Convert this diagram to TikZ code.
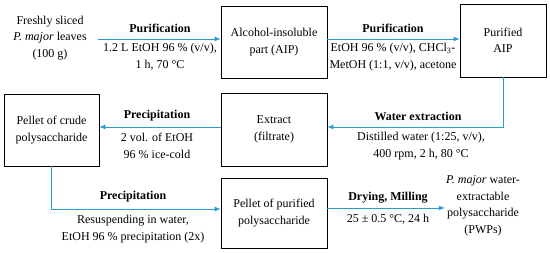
\documentclass[tikz,border=0pt]{standalone}
\usepackage{fontspec}
\setmainfont{Liberation Serif}
\usetikzlibrary{arrows.meta}
\definecolor{arr}{RGB}{40,155,215}
\begin{document}
\begin{tikzpicture}[x=1pt,y=-1pt,
  every node/.style={font=\fontsize{12}{16.5}\selectfont, align=center},
  box/.style={draw, line width=0.8pt, inner sep=0pt},
  flow/.style={draw=arr, line width=0.8pt, -{Latex[length=6pt,width=5pt]}},
  lab/.style={font=\fontsize{12}{16.5}\selectfont\bfseries, inner sep=0pt},
  sub/.style={inner sep=0pt}]
\useasboundingbox (0,0) rectangle (550,253);
\node (start) [minimum width=96pt, inner sep=0pt] at (50,38) {Freshly sliced\\\textit{P. major} leaves\\(100 g)};
\node (aip) [box, minimum width=106pt, minimum height=72pt] at (274,42) {Alcohol-insoluble\\part (AIP)};
\node (paip) [box, minimum width=86pt, minimum height=73pt] at (503,40.5) {Purified\\AIP};
\node (crude) [box, minimum width=95pt, minimum height=72pt] at (51.5,130) {Pellet of crude\\polysaccharide};
\node (extract) [box, minimum width=106pt, minimum height=73pt] at (274,129.5) {Extract\\(filtrate)};
\node (purif) [box, minimum width=106pt, minimum height=70pt] at (274,213) {Pellet of purified\\polysaccharide};
\node (final) [inner sep=1pt] at (483,206) {\textit{P. major} water-\\extractable\\polysaccharide\\(PWPs)};

\draw[flow] (start.east |- 0,39) -- (aip.west |- 0,39);
\node (l1) [lab] at (160,28) {Purification};
\node (s1) [sub] at (160,57) {1.2 L EtOH 96 \% (v/v),\\1 h, 70 °C};

\draw[flow] (aip.east |- 0,39) -- (paip.west |- 0,39);
\node (l2) [lab] at (393,28) {Purification};
\node (s2) [sub] at (393,57) {EtOH 96 \% (v/v), CHCl\textsubscript{3}-\\MetOH (1:1, v/v), acetone};

\draw[flow] (paip.south) |- (extract.east |- 0,127);
\node (l3) [lab] at (418,116) {Water extraction};
\node (s3) [sub] at (421,146) {Distilled water (1:25, v/v),\\400 rpm, 2 h, 80 °C};

\draw[flow] (extract.west |- 0,127) -- (crude.east |- 0,127);
\node (l4) [lab] at (157,116) {Precipitation};
\node (s4) [sub] at (157,146) {2 vol. of EtOH\\96 \% ice-cold};

\draw[flow] (crude.south) |- (purif.west |- 0,209);
\node (l5) [lab] at (133,197) {Precipitation};
\node (s5) [sub] at (133,229) {Resuspending in water,\\EtOH 96 \% precipitation (2x)};

\draw[flow] (purif.east |- 0,208) -- (final.west |- 0,208);
\node (l6) [lab] at (388,198) {Drying, Milling};
\node (s6) [sub] at (388,219) {25 ± 0.5 °C, 24 h};
\end{tikzpicture}
\end{document}
